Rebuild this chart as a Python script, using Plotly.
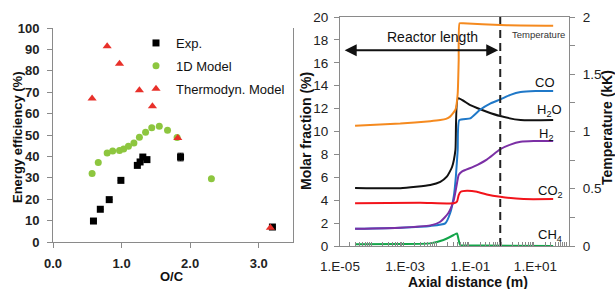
import numpy as np
import plotly.graph_objects as go

# ---------------- Left panel data ----------------
exp_oc = [0.59, 0.69, 0.82, 0.99, 1.23, 1.27, 1.31, 1.37, 1.86, 3.20]
exp_eff = [9.8, 15.3, 19.8, 28.8, 35.8, 37.4, 39.7, 38.5, 39.7, 7.0]
exp_err = [0, 0, 0, 0, 0, 0, 0, 0, 1.8, 0]

model1d_oc = [0.57, 0.66, 0.79, 0.87, 0.97, 1.03, 1.10, 1.18, 1.26, 1.35, 1.44, 1.55, 1.67, 1.81, 2.31]
model1d_eff = [32.0, 37.1, 41.6, 42.5, 42.8, 43.5, 44.7, 46.3, 49.0, 51.3, 53.4, 54.1, 52.2, 48.8, 29.6]

thermo_oc = [0.57, 0.79, 0.97, 1.26, 1.45, 1.82, 3.17]
thermo_eff = [67.1, 91.5, 83.3, 70.9, 63.4, 48.6, 6.7]

# ---------------- Right panel data ----------------
temp_x = [2.9e-5, 7.1e-4, 5.9e-3, 0.012, 0.018, 0.024, 0.035, 0.041, 0.044, 0.047, 0.06, 0.83, 35]
temp_kk = [1.05, 1.07, 1.09, 1.10, 1.11, 1.13, 1.19, 1.33, 1.62, 1.945, 1.945, 1.93, 1.924]

h2o_x = [2.9e-5, 7.1e-4, 5.9e-3, 0.012, 0.019, 0.0275, 0.035, 0.042, 0.1, 0.32, 0.83, 3.5, 35]
h2o_y = [5.07, 5.05, 5.33, 5.6, 6.05, 6.9, 8.4, 12.9, 12.3, 11.73, 11.35, 11.0, 11.0]

co_x = [2.9e-5, 7.1e-4, 5.9e-3, 0.017, 0.024, 0.031, 0.036, 0.041, 0.046, 0.1, 0.2, 0.42, 0.83, 1.7, 3.5, 10, 35]
co_y = [1.5, 1.6, 1.75, 1.98, 2.86, 4.3, 6.05, 8.4, 11.0, 11.15, 11.9, 12.46, 12.8, 13.2, 13.45, 13.54, 13.54]

h2_x = [2.9e-5, 7.1e-4, 5.9e-3, 0.012, 0.021, 0.031, 0.039, 0.044, 0.055, 0.126, 0.32, 0.83, 1.7, 3.5, 8.7, 35]
h2_y = [1.5, 1.6, 1.8, 2.12, 2.86, 4.0, 5.48, 6.2, 6.5, 6.93, 7.55, 8.45, 8.85, 9.1, 9.17, 9.17]

co2_x = [2.9e-5, 2.9e-3, 0.031, 0.039, 0.044, 0.051, 0.079, 0.16, 0.32, 0.83, 4.3, 35]
co2_y = [3.73, 3.78, 3.73, 3.87, 4.45, 4.74, 4.83, 4.74, 4.5, 4.3, 4.1, 4.1]

ch4_x = [2.9e-5, 7.1e-4, 5.9e-3, 0.015, 0.031, 0.039, 0.044, 0.049, 0.2, 35]
ch4_y = [0.15, 0.17, 0.23, 0.52, 0.96, 1.1, 0.52, 0.09, 0.05, 0.0]

reactor_end_m = 0.83
arrow_start_m = 1.25e-5
arrow_end_m = 0.72
arrow_level = 17.1

x2_tickvals = [1e-5, 1e-3, 1e-1, 1e1]
x2_ticktext = ["1.E-05", "1.E-03", "1.E-01", "1.E+01"]
temp_tickvals = [0, 0.5, 1, 1.5, 2]
temp_ticktext = ["0", "0.5", "1", "1.5", "2"]
temp_minorvals = [0.25, 0.75, 1.25, 1.75]

FONT = "Arial, Liberation Sans, sans-serif"
GRAY = "#8a8a8a"
W, H = 615, 289


def px(xp):
    return xp / W


def py(yp):
    return 1 - yp / H


fig = go.Figure()

# ---- left panel traces ----
fig.add_trace(go.Scatter(
    x=exp_oc, y=exp_eff, mode="markers", name="Exp.",
    marker=dict(symbol="square", size=7, color="black"),
    error_y=dict(type="data", array=exp_err, color="black", thickness=1, width=3),
    legendgroup="a", xaxis="x", yaxis="y"))
fig.add_trace(go.Scatter(
    x=model1d_oc, y=model1d_eff, mode="markers", name="1D Model",
    marker=dict(symbol="circle", size=7, color="#8DC63F"),
    legendgroup="b", xaxis="x", yaxis="y"))
fig.add_trace(go.Scatter(
    x=thermo_oc, y=thermo_eff, mode="markers", name="Thermodyn. Model",
    marker=dict(symbol="triangle-up", size=8, color="#E8302A"),
    legendgroup="c", xaxis="x", yaxis="y"))

# ---- right panel traces ----
def line(x, y, color, yaxis="y2"):
    fig.add_trace(go.Scatter(x=x, y=y, mode="lines", showlegend=False,
                             line=dict(color=color, width=2, shape="spline", smoothing=0.5),
                             xaxis="x2", yaxis=yaxis, hoverinfo="skip"))


line(h2o_x, h2o_y, "#111111")
line(co_x, co_y, "#1F78C8")
line(h2_x, h2_y, "#7B2FA5")
line(co2_x, co2_y, "#F2141B")
line(ch4_x, ch4_y, "#14A54A")
fig.add_trace(go.Scatter(x=[reactor_end_m, reactor_end_m], y=[0, 20], mode="lines",
                         showlegend=False, line=dict(color="#222222", width=2, dash="8px,5px"),
                         xaxis="x2", yaxis="y2", hoverinfo="skip"))
line(temp_x, temp_kk, "#F58A1F", yaxis="y3")

axis_common = dict(showgrid=False, zeroline=False, showline=True, linecolor=GRAY, linewidth=1,
                   tickcolor=GRAY, ticklen=5, tickwidth=1, automargin=False)

fig.update_layout(
    template="none",
    width=W, height=H, margin=dict(l=0, r=0, t=0, b=0, autoexpand=False),
    paper_bgcolor="white", plot_bgcolor="rgba(0,0,0,0)",
    font=dict(family=FONT, color="#111111"),
    showlegend=True,
    legend=dict(x=px(136), y=py(28), xanchor="left", yanchor="top",
                font=dict(family=FONT, size=13, color="#111111"),
                bgcolor="rgba(0,0,0,0)", borderwidth=0, tracegroupgap=3, itemwidth=30),
    xaxis=dict(domain=[px(53), px(293)], range=[0, 3.5], dtick=1, tickformat=".1f",
               ticks="outside", anchor="y", ticklabelstandoff=4,
               tickfont=dict(family=FONT, size=13, weight="bold", color="#222222"),
               **axis_common),
    yaxis=dict(domain=[py(242), py(28)], range=[0, 100], dtick=10, ticks="outside",
               anchor="x", mirror=True, ticklabelstandoff=5,
               tickfont=dict(family=FONT, size=13, weight="bold", color="#222222"),
               **axis_common),
    xaxis2=dict(domain=[px(340), px(569)], type="log", range=[-5, 2.03],
                tickmode="array", tickvals=x2_tickvals, ticktext=x2_ticktext,
                ticks="", anchor="y2", mirror=True, ticklabelstandoff=8,
                minor=dict(ticks="inside", ticklen=4, tickcolor=GRAY,
                           tickvals=[k * 10.0 ** e for e in range(-5, 2) for k in range(2, 10)]),
                tickfont=dict(family=FONT, size=13.5, color="#222222"),
                **axis_common),
    yaxis2=dict(domain=[py(246), py(17)], range=[0, 20], dtick=2, ticks="outside",
                anchor="x2", ticklabelstandoff=3,
                tickfont=dict(family=FONT, size=13.5, color="#222222"),
                **axis_common),
    yaxis3=dict(range=[0, 2], overlaying="y2", side="right", anchor="x2",
                tickmode="array", tickvals=temp_tickvals, ticktext=temp_ticktext,
                ticks="outside", ticklabelstandoff=5,
                minor=dict(ticks="outside", ticklen=5, tickcolor=GRAY, tickvals=temp_minorvals),
                tickfont=dict(family=FONT, size=13.5, color="#222222"),
                **axis_common),
)

ann = []


def text(t, xp, yp, size, angle=0, color="#111111"):
    ann.append(dict(text=t, x=px(xp), y=py(yp), xref="paper", yref="paper",
                    xanchor="center", yanchor="middle", textangle=angle,
                    showarrow=False, font=dict(size=size, color=color)))


# axis titles
text("<b>Energy efficiency (%)</b>", 18, 137, 13, -90)
text("<b>O/C</b>", 172, 276, 13)
text("<b>Molar fraction (%)</b>", 306, 131, 14, -90)
text("<b>Temperature (kK)</b>", 607, 128, 14, -90)
text("<b>Axial distance (m)</b>", 468, 282, 14)
# curve labels
text("Temperature", 538, 34, 9.5, color="#333333")
text("CO", 545, 82, 13)
text("H<sub>2</sub>O", 549, 110, 13)
text("H<sub>2</sub>", 546, 134, 13)
text("CO<sub>2</sub>", 550, 191, 13)
text("CH<sub>4</sub>", 550, 235, 13)
text("Reactor length", 432, 37, 14)
# reactor length arrow
ann.append(dict(text="", x=np.log10(arrow_end_m), y=arrow_level, xref="x2", yref="y2",
                ax=np.log10(arrow_start_m), ay=arrow_level, axref="x2", ayref="y2",
                showarrow=True, arrowside="end+start", arrowhead=2, startarrowhead=2,
                arrowsize=1.2, startarrowsize=1.2, arrowwidth=2, arrowcolor="#111111"))
fig.update_layout(annotations=ann)

fig.write_html("out.html", config={"displayModeBar": False},
               post_script="document.body.style.margin='0px';document.body.style.padding='0px';document.body.style.overflow='hidden';")
